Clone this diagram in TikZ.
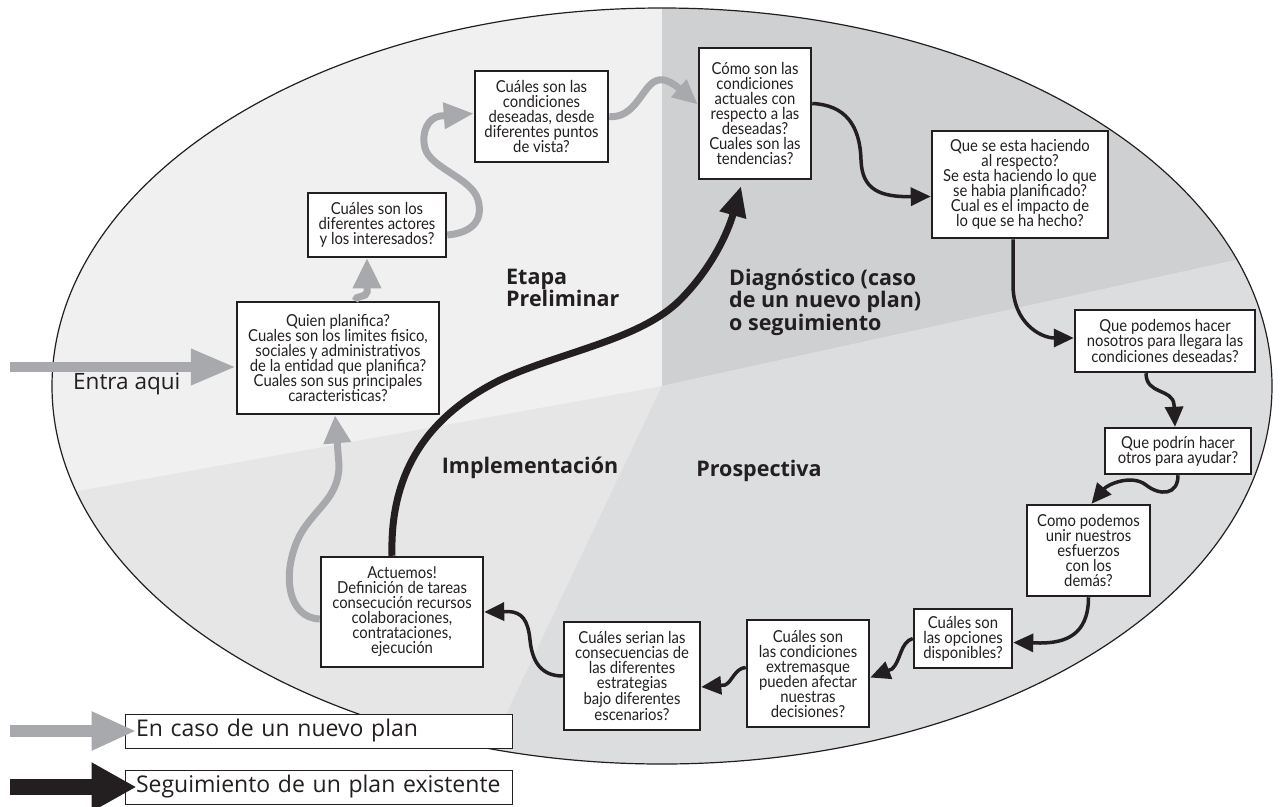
\documentclass[tikz,border=0pt]{standalone}
\usepackage{fontspec}
\setmainfont{Lato}[FakeStretch=0.9]
\newfontfamily\labelfont{Open Sans}
\usetikzlibrary{arrows.meta}
\definecolor{cPre}{HTML}{F0F0F0}
\definecolor{cDia}{HTML}{CFD0D2}
\definecolor{cPro}{HTML}{DCDDDF}
\definecolor{cImp}{HTML}{E6E6E7}
\definecolor{cgray}{HTML}{A7A9AC}
\definecolor{cblack}{HTML}{231F20}
\tikzset{
  qbox/.style={draw=cblack, line width=2.5pt, fill=white, align=center, inner sep=0pt,
    text=cblack, font=\fontsize{16.5}{15}\selectfont},
  garrow/.style={draw=cgray, line width=7pt, -{Triangle[length=30pt,width=27pt]}},
  barrow/.style={draw=cblack, line width=3.5pt, -{Triangle[length=20pt,width=18pt]}},
  bigarrow/.style={draw=cblack, line width=7pt, -{Triangle[length=30pt,width=26pt]}},
  stage/.style={font=\labelfont\bfseries\fontsize{21.5}{21}\selectfont, align=left, text=cblack, inner sep=0pt},
  legbox/.style={draw=cblack, line width=1pt, fill=white, minimum width=387pt, minimum height=34pt,
    text width=365pt, inner xsep=11pt, inner ysep=0pt, align=left, text=cblack,
    font=\labelfont\fontsize{23}{23}\selectfont}
}
\begin{document}
\begin{tikzpicture}[x=1pt,y=-1pt]
\useasboundingbox (0,0) rectangle (1281,806);
% sectors
\begin{scope}
\clip (662,386) ellipse [x radius=610pt, y radius=378pt];
\fill[cImp] (-50,-50) rectangle (1400,900);
\fill[cPre] (662,386) -- (-50,514) -- (-50,-50) -- (662,-50) -- cycle;
\fill[cDia] (662,386) -- (662,-50) -- (1400,-50) -- (1400,224) -- cycle;
\fill[cPro] (662,386) -- (1400,224) -- (1400,900) -- (418,900) -- cycle;
\end{scope}
\draw[cblack, line width=1.2pt] (662,386) ellipse [x radius=610pt, y radius=378pt];

% stage labels
\node[stage, anchor=west] (lpre) at (506,288) {Etapa\\Preliminar};
\node[stage, anchor=west] (ldia) at (729,302) {Diagnóstico (caso\\de un nuevo plan)\\o seguimiento};
\node[stage] (limp) at (530,468) {Implementación};
\node[stage] (lpro) at (759,471) {Prospectiva};

% boxes
\node[qbox, minimum width=202pt, minimum height=112pt] (quien) at (338,358)
  {Quien planifica?\\Cuales son los limites fisico,\\sociales y administrativos\\de la entidad que planifica?\\Cuales son sus principales\\caracteristicas?};
\node[qbox, minimum width=138pt, minimum height=64pt] (actores) at (377,225)
  {Cuáles son los\\diferentes actores\\y los interesados?};
\node[qbox, minimum width=133pt, minimum height=91pt] (deseadas) at (541.5,116.5)
  {Cuáles son las\\condiciones\\deseadas, desde\\diferentes puntos\\de vista?};
\node[qbox, minimum width=112pt, minimum height=131pt] (como) at (755,113.5)
  {Cómo son las\\condiciones\\actuales con\\respecto a las\\deseadas?\\Cuales son las\\tendencias?};
\node[qbox, minimum width=176pt, minimum height=107pt] (quese) at (1020,184.5)
  {Que se esta haciendo\\al respecto?\\Se esta haciendo lo que\\se habia planificado?\\Cual es el impacto de\\lo que se ha hecho?};
\node[qbox, minimum width=180pt, minimum height=62pt] (podemos) at (1165,341)
  {Que podemos hacer\\nosotros para llegara las\\condiciones deseadas?};
\node[qbox, minimum width=146pt, minimum height=46pt] (otros) at (1178,451)
  {Que podrín hacer\\otros para ayudar?};
\node[qbox, minimum width=123pt, minimum height=91pt] (unir) at (1088.5,550.5)
  {Como podemos\\unir nuestros\\esfuerzos\\con los\\demás?};
\node[qbox, minimum width=98pt, minimum height=59pt] (opciones) at (963,638.5)
  {Cuáles son\\las opciones\\disponibles?};
\node[qbox, minimum width=122pt, minimum height=107pt] (extremas) at (808,673.5)
  {Cuáles son\\las condiciones\\extremasque\\pueden afectar\\nuestras\\decisiones?};
\node[qbox, minimum width=136pt, minimum height=108pt] (consec) at (632,676)
  {Cuáles serian las\\consecuencias de\\las diferentes\\estrategias\\bajo diferentes\\escenarios?};
\node[qbox, minimum width=162pt, minimum height=110pt] (actuemos) at (402,612)
  {Actuemos!\\Definición de tareas\\consecución recursos\\colaboraciones,\\contrataciones,\\ejecución};

% entry arrow
\coordinate (entra) at (10,367);
\draw[cgray, line width=10pt, -{Triangle[length=45pt,width=34pt]}] (entra) -- (entra -| quien.west);
\node[font=\labelfont\fontsize{22.5}{22.5}\selectfont, text=cblack, anchor=west, inner sep=0pt] (entratxt) at (73,384) {Entra aqui};

% gray connectors (new plan)
\draw[garrow] ([xshift=17pt]quien.north) .. controls +(0,-6) and +(0,6) .. (367,292) -- ([xshift=-10pt]actores.south);
\draw[garrow, -{Triangle[length=30pt,width=25pt]}] ([yshift=-10pt]actores.east) .. controls (470,233) and (484,222) .. (478,200) .. controls (472,178) and (430,168) .. (425,148) .. controls (421,132) and (428,118) .. (440,116) -- ([yshift=3pt]deseadas.west);
\draw[garrow, -{Triangle[length=25pt,width=22pt]}] (deseadas.east) .. controls +(22,2) and (640,95) .. (650,85) .. controls (658,77) and (667,78) .. ([yshift=9pt]como.west);
\draw[garrow, -{Triangle[length=28pt,width=26pt]}] ([yshift=-7pt]actuemos.west) .. controls (287,618) and (281,572) .. (300,535) .. controls (315,508) and (339,498) .. (339,465) -- ([xshift=-3pt]quien.south);

% black connectors (follow-up)
\draw[barrow] ([yshift=10pt]como.east) .. controls (845,105) and (860,125) .. (861,160) .. controls (862,190) and (880,197) .. ([yshift=-12pt]quese.west);
\draw[barrow] ([xshift=-7pt]quese.south) -- (1013,285) .. controls (1013,322) and (1040,338) .. ([yshift=3pt]podemos.west);
\draw[barrow] ([xshift=-19pt]podemos.south) .. controls +(0,22) and (1173,388) .. (1174,405) -- ([xshift=-3pt]otros.north);
\draw[barrow] (otros.south) .. controls +(0,20) and (1160,496) .. (1146,485) .. controls (1132,474) and (1108,484) .. ([xshift=3pt]unir.north);
\draw[barrow] (unir.south) .. controls +(0,38) and (1065,643) .. (1040,643) -- ([yshift=-4pt]opciones.east);
\draw[barrow] (opciones.west) .. controls (900,642) and (901,661) .. (892,669) -- ([yshift=-4pt]extremas.east);
\draw[barrow] ([yshift=6pt]extremas.west) .. controls (735,668) and (732,682) .. (725,685) -- ([yshift=-11pt]consec.east);
\draw[barrow] (consec.west) .. controls (540,676) and (532,660) .. (530,640) .. controls (528,620) and (522,612) .. (508,611.5) -- (actuemos.east);
\draw[bigarrow] ([xshift=-10pt]actuemos.north) .. controls (390,480) and (420,420) .. (500,380) .. controls (560,352) and (640,340) .. (680,300) .. controls (712,268) and (728,232) .. ([xshift=-14pt,yshift=-6pt]como.south);

% legend
\node[legbox] (leg1) at (318.5,731) {En caso de un nuevo plan};
\node[legbox] (leg2) at (318.5,787) {Seguimiento de un plan existente};
\coordinate (lg1) at (10,731);
\coordinate (lg2) at (10,787);
\draw[cgray, line width=12pt, -{Triangle[length=45pt,width=36pt]}] (lg1) -- ([xshift=12pt]leg1.west);
\draw[cblack, line width=16pt, -{Triangle[length=45pt,width=46pt]}] (lg2) -- ([xshift=12pt]leg2.west);
\end{tikzpicture}
\end{document}
